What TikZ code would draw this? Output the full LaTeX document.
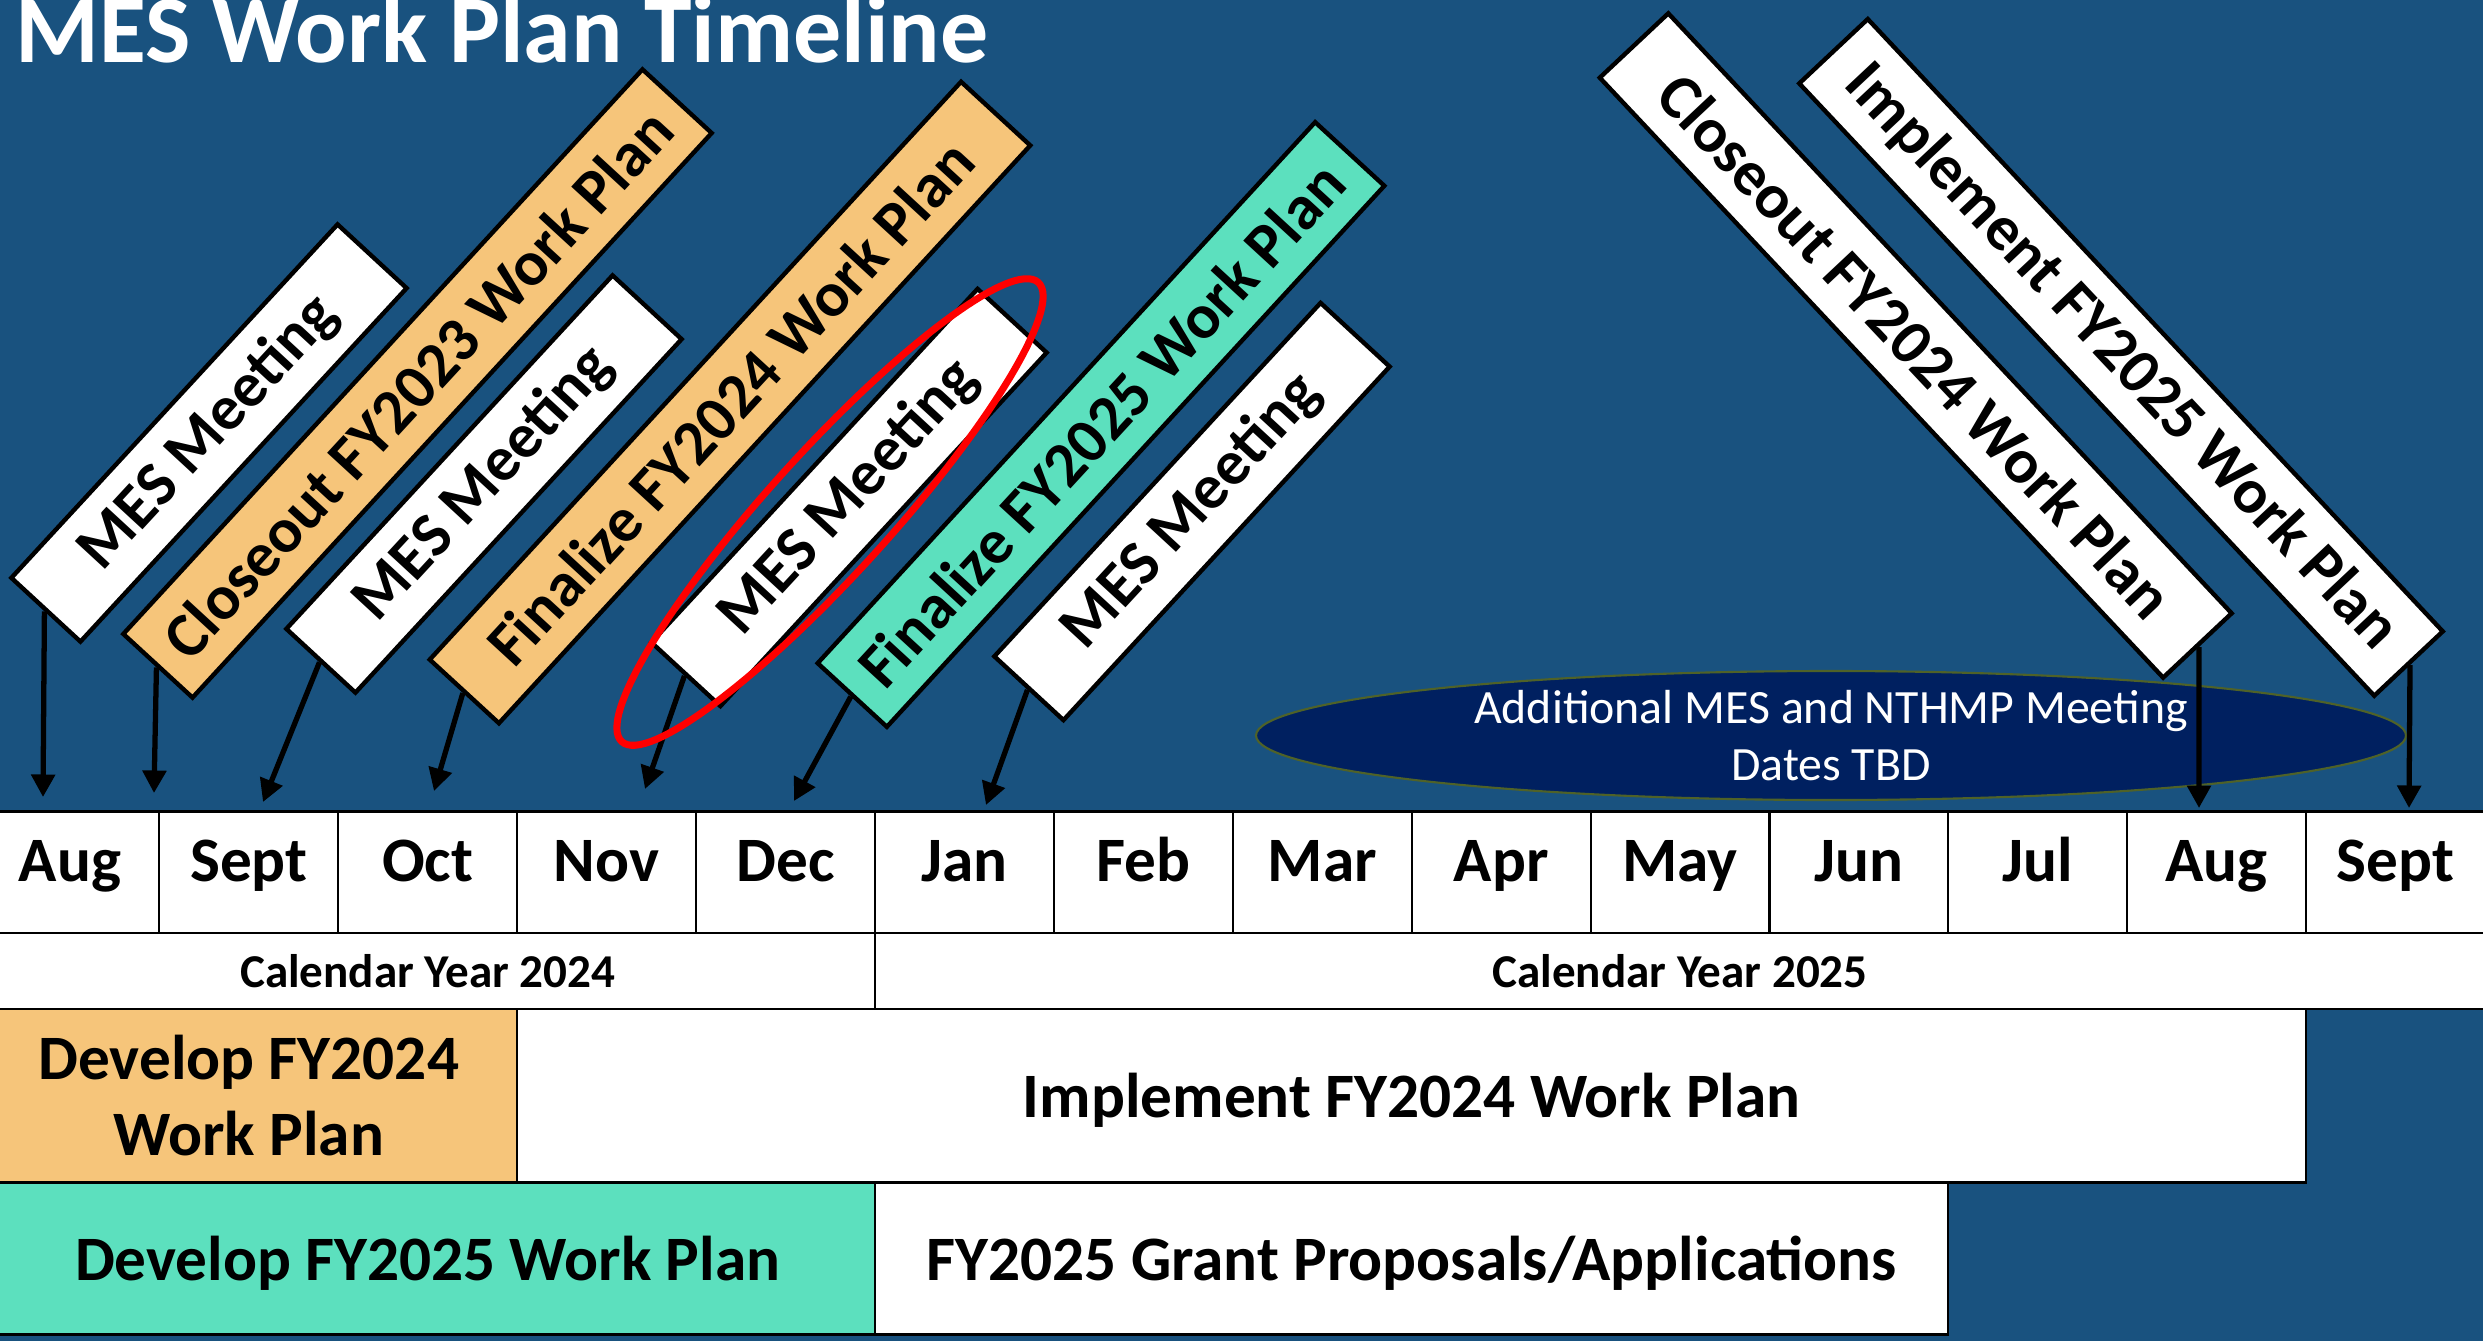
\documentclass[tikz,border=0pt]{standalone}
\usepackage{fontspec}
\setmainfont{Carlito}
\usepackage{tikz}
\usetikzlibrary{shapes.geometric}
\usetikzlibrary{positioning}
\usetikzlibrary{arrows.meta}

\definecolor{slide}{HTML}{19527F}
\definecolor{gold}{HTML}{F6C57A}
\definecolor{mint}{HTML}{5CE0BE}
\definecolor{navy}{HTML}{002060}
\definecolor{olive}{HTML}{4F6228}

\begin{document}
\begin{tikzpicture}[>={Triangle[length=6.4pt,width=6.6pt]},node distance=1.789cm,
	month node/.style={rectangle,draw,fill=white,line width=0.6pt,outer sep=0pt,inner sep=0pt,
		minimum width=1.789cm,minimum height=1.215cm,text height=11.5pt,text depth=6.5pt,
		font=\fontsize{18}{21.6}\selectfont\bfseries},
	bar node/.style={rectangle,draw,fill=white,line width=0.6pt,outer sep=0pt,inner sep=0pt,
		align=center,font=\fontsize{18}{21.6}\selectfont\bfseries},
	flat node/.style={bar node,text depth=0pt},
	year node/.style={bar node,minimum height=0.76cm,font=\fontsize{13.4}{16}\selectfont\bfseries},
	sign node/.style={rectangle,draw,fill=white,line width=1.25pt,inner sep=0pt,
		minimum height=0.94cm,font=\fontsize{18}{21.6}\selectfont\bfseries},
	meeting node/.style={sign node,minimum width=4.81cm,rotate=47.3},
	pointer/.style={line width=1.5pt}]

	\useasboundingbox (0,0) rectangle (24.83,13.41);
	\fill[slide] (0,0) rectangle (24.83,13.41);
	\clip (0,0) rectangle (24.83,13.41);

	\node[anchor=base west,inner sep=0pt,text=white,font=\fontsize{27.3}{32}\selectfont\bfseries]
		(title) at (0.15,12.79) {MES Work Plan Timeline};

	% months
	\node[month node] (aug) at (0.6995,4.6875) {Aug};
	\node[month node] (sep) [right of=aug] {Sept};
	\node[month node] (oct) [right of=sep] {Oct};
	\node[month node] (nov) [right of=oct] {Nov};
	\node[month node] (dec) [right of=nov] {Dec};
	\node[month node] (jan) [right of=dec] {Jan};
	\node[month node] (feb) [right of=jan] {Feb};
	\node[month node] (mar) [right of=feb] {Mar};
	\node[month node] (apr) [right of=mar] {Apr};
	\node[month node] (may) [right of=apr] {May};
	\node[month node] (jun) [right of=may] {Jun};
	\node[month node] (jul) [right of=jun] {Jul};
	\node[month node] (aug2) [right of=jul] {Aug};
	\node[month node] (sep2) [right of=aug2] {Sept};

	\node[year node,minimum width=8.945cm,anchor=north west] (cy24) at (aug.south west) {Calendar Year 2024};
	\node[year node,minimum width=16.101cm,anchor=north west] (cy25) at (jan.south west) {Calendar Year 2025};

	\node[bar node,fill=gold,minimum width=5.367cm,minimum height=1.735cm,anchor=north west]
		(dev24) at (cy24.south west) {Develop FY2024\\Work Plan};
	\node[flat node,minimum width=17.89cm,minimum height=1.735cm,anchor=north west]
		(impl24) at (dev24.north east) {Implement FY2024 Work Plan};
	\node[flat node,fill=mint,minimum width=8.945cm,minimum height=1.52cm,anchor=north west]
		(dev25) at (dev24.south west) {Develop FY2025 Work Plan};
	\node[flat node,minimum width=10.734cm,minimum height=1.52cm,anchor=north west]
		(grant) at (dev25.north east) {FY2025 Grant Proposals/Applications};

	\node[ellipse,draw=olive,line width=0.6pt,fill=navy,minimum width=11.5cm,minimum height=1.29cm,
		inner sep=0pt] (tbd) at (18.31,6.055) {};
	\node[text=white,align=center,font=\fontsize{13.6}{16.4}\selectfont] (tbdtext) at (tbd)
		{Additional MES and NTHMP Meeting\\Dates TBD};

	% tilted signs
	\node[meeting node] (mes1) at (2.09,9.08) {MES Meeting};
	\node[sign node,fill=gold,minimum width=7.67cm,rotate=47.4] (close23) at (4.175,9.575) {Closeout FY2023 Work Plan};
	\node[meeting node] (mes2) at (4.84,8.57) {MES Meeting};
	\node[sign node,fill=gold,minimum width=7.85cm,rotate=47.4] (fin24) at (7.30,9.385) {Finalize FY2024 Work Plan};
	\node[meeting node] (mes3) at (8.49,8.435) {MES Meeting};
	\node[sign node,fill=mint,minimum width=7.35cm,rotate=47.4] (fin25) at (11.01,9.165) {Finalize FY2025 Work Plan};
	\node[meeting node] (mes4) at (11.92,8.295) {MES Meeting};
	\node[sign node,minimum width=8.23cm,rotate=-46.8] (close24) at (19.157,9.955) {Closeout FY2024 Work Plan};
	\node[sign node,minimum width=8.40cm,rotate=-46.8] (impl25) at (21.21,9.836) {Implement FY2025 Work Plan};

	\coordinate (t1) at (0.43,5.44);
	\coordinate (t2) at (1.54,5.48);
	\coordinate (t3) at (2.63,5.39);
	\coordinate (t4) at (4.34,5.50);
	\coordinate (t5) at (6.45,5.52);
	\coordinate (t6) at (7.94,5.40);
	\coordinate (t7) at (9.86,5.36);
	\coordinate (t8) at (21.99,5.33);
	\coordinate (t9) at (24.09,5.33);

	\path[->,pointer]
	(mes1.west) edge (t1)
	(close23.west) edge (t2)
	(mes2.west) edge (t3)
	(fin24.west) edge (t4)
	(mes3.west) edge (t5)
	(fin25.west) edge (t6)
	(mes4.west) edge (t7)
	(close24.east) edge (t8)
	(impl25.east) edge (t9);

	\draw[red,line width=2pt,rotate around={47.8:(8.30,8.29)}] (8.30,8.29) ellipse (3.1cm and 0.61cm);
\end{tikzpicture}
\end{document}
